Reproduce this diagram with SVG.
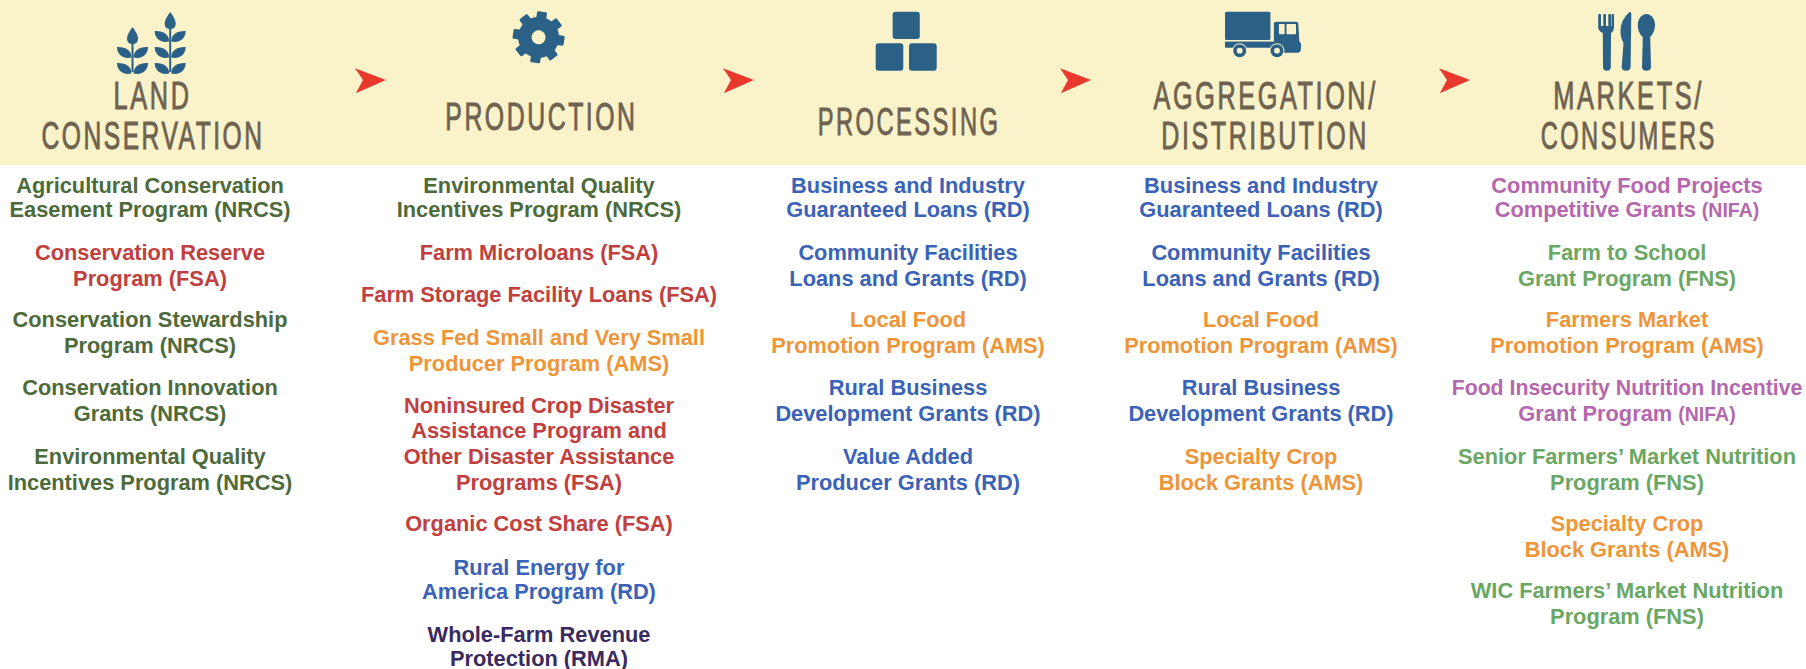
<svg xmlns="http://www.w3.org/2000/svg" width="1806" height="669" viewBox="0 0 1806 669">
<style>
.h{font-family:"Liberation Sans Narrow","Liberation Sans",sans-serif;font-size:39px;fill:#6e6250;stroke:#6e6250;stroke-width:.9px;letter-spacing:4px}
.t{font-family:"Liberation Sans",Arial,sans-serif;font-size:21.8px;font-weight:700;text-anchor:middle}
.ic{fill:#2b6087}
.bg{fill:#faf3ca}
.g{fill:#4d6b3a}.r{fill:#c1403d}.o{fill:#ef9539}.b{fill:#3a63b8}.d{fill:#3a2a60}.p{fill:#b567ae}.l{fill:#6aa763}
.n{font-size:19.5px}
.f{font-size:21.25px}
</style>
<defs>
<polygon id="arrow" points="-8,-11.7 23,0 -7.2,13.3 0,0" fill="#e8392c"/>
<path id="leaf" d="M1 10.500C1 3.500 7 -.5 15.500 0C15.500 7 10 12.500 1 10.500Z"/>
<path id="bud" d="M0 -16C3 -12 5.500 -8 5.500 -4.500C5.500 0 2.500 1 0 1C-2.500 1 -5.500 0 -5.500 -4.500C-5.500 -8 -3 -12 0 -16Z"/>
<g id="pair" class="ic"><use href="#leaf"/><use href="#leaf" transform="scale(-1 1)"/></g>
<rect id="tooth" x="-5" y="-25.800" width="10" height="11" rx="1.500"/>
</defs>
<rect class="bg" x="0" y="0" width="1806" height="165"/>
<g id="connectors">
<use href="#arrow" x="363" y="80"/>
<use href="#arrow" x="731" y="80"/>
<use href="#arrow" x="1068" y="80"/>
<use href="#arrow" x="1447" y="80"/>
</g>
<g id="land-conservation">
<g class="ic">
<rect x="131.500" y="40" width="2" height="32"/>
<use href="#bud" x="132.500" y="43"/>
<use href="#pair" x="132.500" y="47"/>
<use href="#pair" x="132.500" y="63"/>
<rect x="169.200" y="26" width="2" height="46"/>
<use href="#bud" x="170.200" y="28"/>
<use href="#pair" x="170.200" y="31"/>
<use href="#pair" x="170.200" y="47"/>
<use href="#pair" x="170.200" y="63"/>
</g>
<text class="h" x="113.600" y="109.300" textLength="78" lengthAdjust="spacingAndGlyphs">LAND</text>
<text class="h" x="41.500" y="149" textLength="223" lengthAdjust="spacingAndGlyphs">CONSERVATION</text>
<text class="t g" x="150" y="192.700">Agricultural Conservation</text>
<text class="t g" x="150" y="217.300">Easement Program (NRCS)</text>
<text class="t r" x="150" y="260">Conservation Reserve</text>
<text class="t r" x="150" y="286">Program (FSA)</text>
<text class="t g" x="150" y="327.300">Conservation Stewardship</text>
<text class="t g" x="150" y="353.300">Program (NRCS)</text>
<text class="t g" x="150" y="394.700">Conservation Innovation</text>
<text class="t g" x="150" y="420.700">Grants (NRCS)</text>
<text class="t g" x="150" y="464">Environmental Quality</text>
<text class="t g" x="150" y="490">Incentives Program (NRCS)</text>
</g>
<g id="production">
<g class="ic" transform="translate(538.600 37.300) rotate(8)">
<circle r="20.500"/>
<use href="#tooth"/><use href="#tooth" transform="rotate(45)"/><use href="#tooth" transform="rotate(90)"/><use href="#tooth" transform="rotate(135)"/><use href="#tooth" transform="rotate(180)"/><use href="#tooth" transform="rotate(225)"/><use href="#tooth" transform="rotate(270)"/><use href="#tooth" transform="rotate(315)"/>
<circle class="bg" r="7"/>
</g>
<text class="h" x="445.300" y="130" textLength="192.300" lengthAdjust="spacingAndGlyphs">PRODUCTION</text>
<text class="t g" x="539" y="192.700">Environmental Quality</text>
<text class="t g" x="539" y="217.300">Incentives Program (NRCS)</text>
<text class="t r" x="539" y="260">Farm Microloans (FSA)</text>
<text class="t r" x="539" y="302">Farm Storage Facility Loans (FSA)</text>
<text class="t o" x="539" y="345.300">Grass Fed Small and Very Small</text>
<text class="t o" x="539" y="371.300">Producer Program (AMS)</text>
<text class="t r" x="539" y="412.700">Noninsured Crop Disaster</text>
<text class="t r" x="539" y="438.300">Assistance Program and</text>
<text class="t r" x="539" y="464">Other Disaster Assistance</text>
<text class="t r" x="539" y="490">Programs (FSA)</text>
<text class="t r" x="539" y="531.300">Organic Cost Share (FSA)</text>
<text class="t b" x="539" y="574.700">Rural Energy for</text>
<text class="t b" x="539" y="598.700">America Program (RD)</text>
<text class="t d" x="539" y="642">Whole-Farm Revenue</text>
<text class="t d" x="539" y="665.500">Protection (RMA)</text>
</g>
<g id="processing">
<g class="ic">
<rect x="892.600" y="11.700" width="27.200" height="27.300" rx="3"/>
<rect x="875.700" y="43.300" width="27.600" height="27.400" rx="3"/>
<rect x="909" y="43.300" width="27.700" height="27.400" rx="3"/>
</g>
<text class="h" x="817.700" y="135" textLength="182.700" lengthAdjust="spacingAndGlyphs">PROCESSING</text>
<text class="t b" x="908" y="192.700">Business and Industry</text>
<text class="t b" x="908" y="217.300">Guaranteed Loans (RD)</text>
<text class="t b" x="908" y="260">Community Facilities</text>
<text class="t b" x="908" y="286">Loans and Grants (RD)</text>
<text class="t o" x="908" y="327.300">Local Food</text>
<text class="t o" x="908" y="353.300">Promotion Program (AMS)</text>
<text class="t b" x="908" y="394.700">Rural Business</text>
<text class="t b" x="908" y="420.700">Development Grants (RD)</text>
<text class="t b" x="908" y="464">Value Added</text>
<text class="t b" x="908" y="490">Producer Grants (RD)</text>
</g>
<g id="aggregation-distribution">
<g class="ic">
<rect x="1225" y="11.700" width="45.400" height="28.300" rx="1.500"/>
<path d="M1225 41.700H1273.900V23.500Q1273.900 21.700 1276 21.700H1296Q1298 21.700 1298.300 23.500L1299.400 41.700 1301 43.500V47.500Q1301 52.700 1298 52.700H1225Z"/>
<rect class="bg" x="1278.900" y="24" width="5.700" height="10.300" rx=".8"/>
<rect class="bg" x="1286.500" y="24" width="9.500" height="10.300" rx=".8"/>
<rect class="bg" x="1225" y="47.500" width="48.900" height="6"/>
<rect class="ic" x="1225" y="41.700" width="48.900" height="5.800" rx="1.500"/>
<circle cx="1239.700" cy="50.700" r="7.500" class="bg"/>
<circle cx="1277" cy="50.700" r="7.500" class="bg"/>
<circle cx="1239.700" cy="50.700" r="6.500"/>
<circle cx="1277" cy="50.700" r="6.500"/>
<circle cx="1239.700" cy="50.700" r="2.900" class="bg"/>
<circle cx="1277" cy="50.700" r="2.900" class="bg"/>
</g>
<text class="h" x="1153.600" y="109.300" textLength="224.200" lengthAdjust="spacingAndGlyphs">AGGREGATION/</text>
<text class="h" x="1161.300" y="149" textLength="207.700" lengthAdjust="spacingAndGlyphs">DISTRIBUTION</text>
<text class="t b" x="1261" y="192.700">Business and Industry</text>
<text class="t b" x="1261" y="217.300">Guaranteed Loans (RD)</text>
<text class="t b" x="1261" y="260">Community Facilities</text>
<text class="t b" x="1261" y="286">Loans and Grants (RD)</text>
<text class="t o" x="1261" y="327.300">Local Food</text>
<text class="t o" x="1261" y="353.300">Promotion Program (AMS)</text>
<text class="t b" x="1261" y="394.700">Rural Business</text>
<text class="t b" x="1261" y="420.700">Development Grants (RD)</text>
<text class="t o" x="1261" y="464">Specialty Crop</text>
<text class="t o" x="1261" y="490">Block Grants (AMS)</text>
</g>
<g id="markets-consumers">
<g class="ic">
<path d="M1598.200 15Q1598.200 14 1599.200 14H1600Q1601 14 1601 15V26H1603.300V15Q1603.300 14 1604.300 14H1605Q1606 14 1606 15V26H1608.300V15Q1608.300 14 1609.300 14H1610Q1611 14 1611 15V26H1611.500V15Q1611.500 14 1612.500 14H1613Q1614 14 1614 15V27Q1614 31 1611 33L1610.800 67Q1610.800 70.700 1606.800 70.700Q1603 70.700 1603 67L1602.800 33Q1598.200 31 1598.200 27Z"/>
<path d="M1629.500 12Q1631.300 11.500 1631.300 14L1630.600 67Q1630.600 70.700 1626 70.700Q1621.700 70.700 1621.700 67L1623.500 43Q1620.500 38 1620.500 31Q1620.500 20 1629.500 12Z"/>
<path d="M1646.400 14C1651.500 14 1655 19 1655 25C1655 31 1652 35 1650.200 37L1651 67Q1651 70.700 1646.400 70.700Q1642 70.700 1642 67L1642.800 37C1640.500 35 1637.800 31 1637.800 25C1637.800 19 1641.500 14 1646.400 14Z"/>
</g>
<text class="h" x="1553.300" y="109.300" textLength="150.700" lengthAdjust="spacingAndGlyphs">MARKETS/</text>
<text class="h" transform="translate(1540.700 149) scale(.608 1)">CONSUMERS</text>
<text class="t p" x="1627" y="192.700">Community Food Projects</text>
<text class="t p" x="1627" y="217.300">Competitive Grants <tspan class="n">(NIFA)</tspan></text>
<text class="t l" x="1627" y="260">Farm to School</text>
<text class="t l" x="1627" y="286">Grant Program (FNS)</text>
<text class="t o" x="1627" y="327.300">Farmers Market</text>
<text class="t o" x="1627" y="353.300">Promotion Program (AMS)</text>
<text class="t p f" x="1627" y="394.700">Food Insecurity Nutrition Incentive</text>
<text class="t p" x="1627" y="420.700">Grant Program <tspan class="n">(NIFA)</tspan></text>
<text class="t l" x="1627" y="464">Senior Farmers’ Market Nutrition</text>
<text class="t l" x="1627" y="490">Program (FNS)</text>
<text class="t o" x="1627" y="531.300">Specialty Crop</text>
<text class="t o" x="1627" y="556.700">Block Grants (AMS)</text>
<text class="t l" x="1627" y="598">WIC Farmers’ Market Nutrition</text>
<text class="t l" x="1627" y="624">Program (FNS)</text>
</g>
</svg>
